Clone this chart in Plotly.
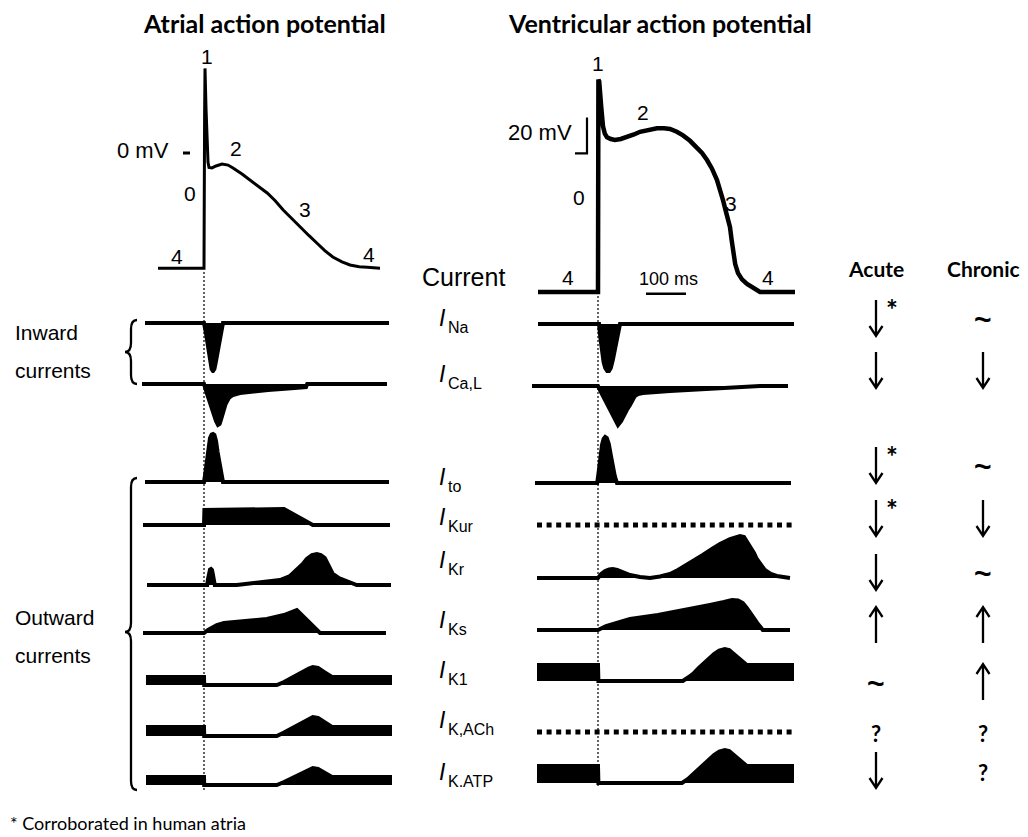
import plotly.graph_objects as go

# ---------------- DATA ----------------
# Action potentials: time (ms), membrane potential (mV)
atr_ap_t = [-115, 0, 1.5, 2.5, 5, 7.5, 10, 12.5, 20, 30, 45, 60, 72.5, 95, 115, 137, 158, 178, 198, 220,
            240, 262, 282, 302, 322, 345, 365, 388, 408, 440]
atr_ap_v = [-64, -64, 20, 47, 25, 5, -5, -8, -8.3, -7.2, -6.1, -6.7, -8.3, -11.7, -15, -18.5, -22.2, -26.5, -31.7, -36.5,
            -41.1, -45.8, -50, -54.2, -57.8, -60.5, -62.2, -63.2, -63.5, -64]

ven_ap_t = [-150, 0, 1, 3, 8, 12.5, 17, 22.5, 32, 42.5, 57, 72.5, 90, 105, 125, 147.5, 165, 180, 197, 212.5,
            230, 247.5, 260, 272.5, 285, 297.5, 305, 312.5, 320, 330, 334, 337.5, 343, 350, 360, 372.5, 388, 405, 492.5]
ven_ap_v = [-85, -85, 33, 32, 18, 7, 3, 1, 0, -0.5, 0, 1, 2.5, 4, 5, 6, 6, 5.6, 4, 2,
            -1, -4.5, -7.8, -11.7, -16.5, -22.8, -28, -34, -40.5, -49, -56, -63, -69.5, -74.5, -78, -80.5, -83, -85, -85]

# Ionic currents (arbitrary units, inward negative), time in ms
current_names = ["Na", "Ca,L", "to", "Kur", "Kr", "Ks", "K1", "K,ACh", "K.ATP"]

atr_ina_t = [-147.5, 0, 4, 8, 12, 16, 19, 22.5, 26, 29, 33, 38, 43, 47.5, 462.5]
atr_ina_i = [0, 0, -8, -19, -30, -40, -46, -48, -46, -40, -32, -20, -9, 0, 0]
atr_ical_t = [-155, 0, 6, 12, 18, 24, 30, 35, 39, 43, 48, 54, 62, 72, 90, 120, 160, 210, 255, 258, 457.5]
atr_ical_i = [0, 0, -8, -16, -23, -30, -37, -41, -40, -35, -28, -20, -14, -11, -9, -7.5, -6, -4.5, -3, 0, 0]
atr_ito_t = [-147.5, 0, 3, 7, 11, 15, 19, 22.5, 26, 30, 34, 39, 43, 47.5, 462.5]
atr_ito_i = [0, 0, 8, 22, 36, 44, 47.5, 48, 47, 41, 30, 17, 7, 0, 0]
atr_ikur_t = [-152.5, 0, 1, 200, 272, 465]
atr_ikur_i = [0, 0, 15, 16, 0, 0]
atr_ikr_t = [-142.5, 8, 10, 12, 15, 17.5, 20, 22, 24, 27, 82, 140, 190, 215, 232, 247, 257, 270, 282, 292,
             302, 312, 322, 337, 357, 382, 467.5]
atr_ikr_i = [0, 0, 6, 12, 15.5, 16, 15, 11, 5, 0, 0, 2.5, 5, 9, 15, 21, 26, 30, 31, 30,
             27, 20, 11, 7, 4, 0, 0]
atr_iks_t = [-152.5, 0, 10, 20, 32, 50, 72, 110, 157, 200, 232, 290, 455]
atr_iks_i = [0, 0, 3, 5.5, 8, 10, 11, 12.5, 14, 18, 23, 0, 0]
atr_ik1_t = [-145, 0, 0.5, 182, 200, 222, 245, 262, 272, 285, 300, 312, 320, 470]
atr_ik1_i = [8, 8, 0, 0, 3, 8, 13, 16.5, 18, 17, 13, 10, 8, 8]
atr_ikach_t = [-145, 0, 0.5, 182, 200, 222, 245, 262, 272, 285, 300, 312, 320, 470]
atr_ikach_i = [9, 9, 0, 0, 3.5, 8.5, 14, 17.5, 19, 18, 14, 11, 9, 9]
atr_ikatp_t = [-145, 0, 0.5, 182, 200, 222, 245, 262, 272, 285, 300, 312, 320, 470]
atr_ikatp_i = [8, 8, 0, 0, 3, 7.5, 12, 15.5, 17, 16, 12.5, 10, 8, 8]

ven_ina_t = [-150, 2.5, 6, 10, 14, 18, 23, 27.5, 32, 37, 42, 47, 51, 55, 490]
ven_ina_i = [0, 0, -14, -28, -38, -44, -47, -47, -44, -36, -25, -14, -6, 0, 0]
ven_ical_t = [-165, 0, 10, 20, 30, 40, 50, 58, 65, 72, 80, 86, 92, 100, 112, 180, 305, 405, 475]
ven_ical_i = [0, 0, -8, -16, -24, -32, -39, -35, -29, -24, -19, -14, -10, -8, -7, -5, -2, 0, 0]
ven_ito_t = [-157.5, -2, 2, 6, 10, 14, 18, 22, 27, 32, 37, 42, 47.5, 482.5]
ven_ito_i = [0, 0, 12, 28, 38, 44, 46, 45, 39, 28, 17, 7, 0, 0]
ven_ikur_t = [-152.5, 487.5]
ven_ikur_i = [0, 0]
ven_ikr_t = [-152.5, 0, 8, 18, 28, 37, 48, 62, 80, 105, 130, 155, 180, 200, 222, 242, 262, 285, 305, 330,
             345, 355, 365, 372, 380, 390, 397, 407, 417, 432, 447, 480]
ven_ikr_i = [0, 0, 4, 7, 8.5, 9, 8, 5.5, 3, 1, 0, 1.5, 4, 8, 13, 18, 23, 29, 34, 39,
             41, 42, 41, 37, 32, 25, 19, 13, 8, 4, 2, 0]
ven_iks_t = [-152.5, 0, 20, 50, 80, 150, 222, 280, 315, 335, 350, 362, 372, 385, 398, 412, 480]
ven_iks_i = [0, 0, 4, 8, 11, 15, 20, 25, 28, 30, 29.5, 27, 22, 14, 7, 0, 0]
ven_ik1_t = [-152.5, 0, 1, 212, 227, 240, 252, 265, 278, 290, 303, 317, 328, 340, 350, 362, 372, 490]
ven_ik1_i = [16, 16, 0, 0, 4, 8, 13, 18, 23, 27, 30.5, 32, 31, 27, 23, 18.5, 16, 16]
ven_ikach_t = [-152.5, 487.5]
ven_ikach_i = [0, 0]
ven_ikatp_t = [-152.5, 0, 1, 210, 225, 238, 250, 263, 276, 290, 303, 317, 328, 340, 350, 362, 372, 490]
ven_ikatp_i = [17, 17, 0, 0, 4, 9, 14, 19, 24, 28, 31.5, 33, 32, 28, 24, 19.5, 17, 17]

# Remodelling in AF: acute and chronic changes per current
acute = ["↓*", "↓", "↓*", "↓*", "↓", "↑", "~", "?", "↓"]
chronic = ["~", "↓", "~", "↓", "~", "↑", "↑", "?", "?"]

# ---------------- LAYOUT HELPERS ----------------
# page body has an 8 px margin: the figure starts at (8, 8) of the window
OFF = 8
W, H = 1020, 829
def PX(x): return (x - OFF) / W
def PY(y): return 1 - (y - OFF) / H

FONT = "Liberation Sans, Arial, sans-serif"
CAL = "Lato, Open Sans, sans-serif"

atr_series = [(atr_ina_t, atr_ina_i), (atr_ical_t, atr_ical_i), (atr_ito_t, atr_ito_i), (atr_ikur_t, atr_ikur_i),
              (atr_ikr_t, atr_ikr_i), (atr_iks_t, atr_iks_i), (atr_ik1_t, atr_ik1_i), (atr_ikach_t, atr_ikach_i),
              (atr_ikatp_t, atr_ikatp_i)]
ven_series = [(ven_ina_t, ven_ina_i), (ven_ical_t, ven_ical_i), (ven_ito_t, ven_ito_i), (ven_ikur_t, ven_ikur_i),
              (ven_ikr_t, ven_ikr_i), (ven_iks_t, ven_iks_i), (ven_ik1_t, ven_ik1_i), (ven_ikach_t, ven_ikach_i),
              (ven_ikatp_t, ven_ikatp_i)]
ven_dotted = {3, 7}

# pixel baselines of each row (zero current)
atr_base = [323, 384, 482, 525, 585, 633, 685, 736, 785]
ven_base = [324, 386, 483, 525, 578, 630, 681, 732, 783]
label_y = [321, 377, 480, 520, 563, 623, 673, 723, 775]
sym_y = [318, 370, 465, 518, 572, 625, 682, 731, 770]

layout = dict(width=W, height=H, margin=dict(l=0, r=0, t=0, b=0),
              paper_bgcolor="white", plot_bgcolor="rgba(0,0,0,0)", showlegend=False)

def xax(d0, d1, t0):
    return dict(domain=[PX(d0), PX(d1)], range=[(d0 - t0) * 2.5, (d1 - t0) * 2.5],
                visible=False, fixedrange=True)

layout["xaxis"] = xax(140, 395, 204)
layout["xaxis2"] = xax(530, 800, 598)
layout["xaxis"]["anchor"] = "y"
layout["xaxis2"]["anchor"] = "y2"

def yax(ptop, pbot, vtop, vbot, anchor):
    return dict(domain=[max(0, PY(pbot)), min(1, PY(ptop))], range=[vbot, vtop],
                visible=False, fixedrange=True, anchor=anchor)

# AP axes (1.8 px per mV)
layout["yaxis"] = yax(40, 290, (153 - 40) / 1.8, (153 - 290) / 1.8, "x")
layout["yaxis2"] = yax(40, 310, (139 - 40) / 1.8, (139 - 310) / 1.8, "x2")

traces = []
traces.append(go.Scatter(x=atr_ap_t, y=atr_ap_v, xaxis="x", yaxis="y", mode="lines",
                         line=dict(color="black", width=3), hoverinfo="skip"))
traces.append(go.Scatter(x=ven_ap_t, y=ven_ap_v, xaxis="x2", yaxis="y2", mode="lines",
                         line=dict(color="black", width=4.5), hoverinfo="skip"))

ax_n = 3
for k in range(len(current_names)):
    for col, (series, base, xa) in enumerate([(atr_series, atr_base, "x"), (ven_series, ven_base, "x2")]):
        name = "yaxis%d" % ax_n
        layout[name] = yax(base[k] - 60, base[k] + 50, 60, -50, xa)
        t, i = series[k]
        if col == 1 and k in ven_dotted:
            traces.append(go.Scatter(x=t, y=i, xaxis=xa, yaxis="y%d" % ax_n, mode="lines",
                                     line=dict(color="black", width=5, dash="5px,4.6px"), hoverinfo="skip"))
        else:
            traces.append(go.Scatter(x=t, y=i, xaxis=xa, yaxis="y%d" % ax_n, mode="lines",
                                     line=dict(color="black", width=4), fill="tozeroy",
                                     fillcolor="black", hoverinfo="skip"))
        ax_n += 1

shapes = []
# stimulus (t = 0) dotted lines
shapes.append(dict(type="line", xref="x", yref="paper", x0=0, x1=0, y0=PY(790), y1=PY(270),
                   line=dict(color="#222", width=1.4, dash="2px,2px"), layer="below"))
shapes.append(dict(type="line", xref="x2", yref="paper", x0=0, x1=0, y0=PY(786), y1=PY(292),
                   line=dict(color="#222", width=1.4, dash="2px,2px"), layer="below"))
# 0 mV tick
shapes.append(dict(type="line", xref="x", yref="y", x0=-52.5, x1=-35, y0=0, y1=0,
                   line=dict(color="black", width=3)))
# 20 mV scale bar
shapes.append(dict(type="path", xref="x2", yref="y2", path="M -57.5,-8 L -27.5,-8 L -27.5,12",
                   line=dict(color="black", width=2.2)))
# 100 ms scale bar
shapes.append(dict(type="line", xref="x2", yref="y2", x0=120, x1=220, y0=-86, y1=-86,
                   line=dict(color="black", width=2.5)))

def brace(y0, y1, ym, xo=137, xi=131, xc=125):
    pts = "M {a},{b} Q {c},{b} {c},{d} L {c},{e} Q {c},{f} {g},{f} Q {c},{f} {c},{h} L {c},{i} Q {c},{j} {a},{j}".format(
        a=PX(xo), b=PY(y0), c=PX(xi), d=PY(y0 + 9), e=PY(ym - 9), f=PY(ym), g=PX(xc),
        h=PY(ym + 9), i=PY(y1 - 9), j=PY(y1))
    return dict(type="path", xref="paper", yref="paper", path=pts, line=dict(color="black", width=2.3))

shapes.append(brace(320, 384, 352))
shapes.append(brace(478, 790, 632))

def arrow(xc, yc, up):
    top, bot = yc - 18, yc + 18
    tip = top if up else bot
    back = tip + 10 if up else tip - 10
    path = "M {x},{t} L {x},{b} M {l},{k} L {x},{p} L {r},{k}".format(
        x=PX(xc), t=PY(top), b=PY(bot), l=PX(xc - 6.5), r=PX(xc + 6.5), k=PY(back), p=PY(tip))
    return dict(type="path", xref="paper", yref="paper", path=path, line=dict(color="black", width=2.3))

ann = []
def txt(s, x, y, size=21, font=FONT, xanchor="center", bold=False, italic=False):
    f = dict(size=size, family=font, color="black")
    if bold:
        f["weight"] = "bold"
    if italic:
        f["style"] = "italic"
    ann.append(dict(text=s, x=PX(x), y=PY(y), xref="paper", yref="paper", showarrow=False,
                    xanchor=xanchor, yanchor="middle", font=f))

for col_x, col in [(876, acute), (983, chronic)]:
    for k, s in enumerate(col):
        y = sym_y[k]
        if s.startswith("↓") or s.startswith("↑"):
            shapes.append(arrow(col_x, y, s.startswith("↑")))
            if s.endswith("*"):
                txt("*", col_x + 16, y - 9, size=28, font=CAL, bold=True)
        elif s == "~":
            txt("~", col_x, y + 1, size=30, font=FONT, bold=True)
        else:
            txt(s, col_x, y + 2, size=22, font=CAL, bold=True)

# titles
txt("Atrial action potential", 264, 23, size=25, font=CAL, bold=True)
txt("Ventricular action potential", 660, 23, size=25, font=CAL, bold=True)
txt("Acute", 876, 268, size=21, font=CAL, bold=True)
txt("Chronic", 983, 268, size=21, font=CAL, bold=True)
txt("* Corroborated in human atria", 8, 823, size=18, font=CAL, xanchor="left")

# AP phase labels
for s, x, y in [("1", 207, 56), ("2", 236, 148), ("0", 190, 193), ("3", 305, 210), ("4", 177, 256),
                ("4", 369, 255), ("1", 598, 63), ("2", 643, 112), ("0", 579, 197), ("3", 731, 203),
                ("4", 568, 278), ("4", 768, 278)]:
    txt(s, x, y, size=21)
txt("0 mV", 143, 150, size=22)
txt("20 mV", 540, 133, size=22)
txt("100 ms", 668, 279, size=18)
txt("Current", 463, 277, size=25)
txt("Inward", 13, 333, size=21, xanchor="left")
txt("currents", 13, 370, size=21, xanchor="left")
txt("Outward", 13, 617, size=21, xanchor="left")
txt("currents", 13, 655, size=21, xanchor="left")

for k, nm in enumerate(current_names):
    txt("I", 437, label_y[k] - 3, size=23, italic=True, xanchor="left")
    txt(nm, 446, label_y[k] + 6, size=16, xanchor="left")

layout["shapes"] = shapes
layout["annotations"] = ann

fig = go.Figure(data=traces, layout=layout)
fig.write_html("out.html")
